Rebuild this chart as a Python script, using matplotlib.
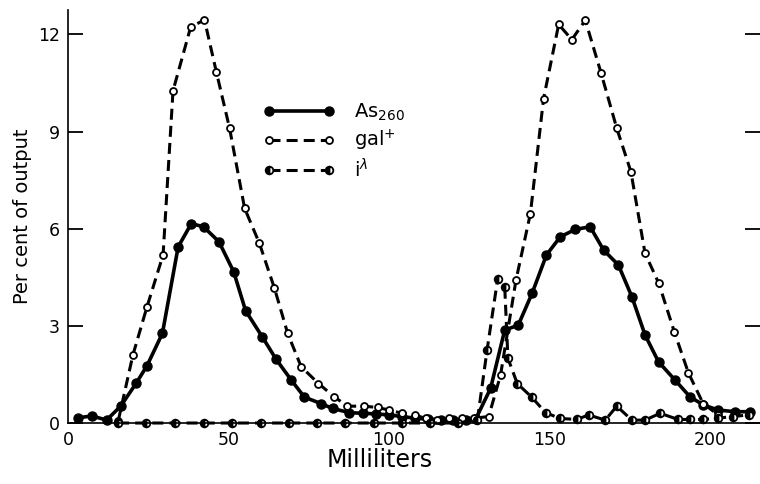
import matplotlib.pyplot as plt

# Absorbance at 260 (filled circles, solid line)
as_x = [3.2, 7.4, 12.0, 16.4, 21.3, 24.6, 29.4, 34.3, 38.4, 42.2, 47.0, 51.6,
        55.3, 60.5, 64.8, 69.5, 73.6, 78.8, 82.4, 87.6, 92.0, 96.0, 100.0,
        104.0, 108.0, 112.0, 116.0, 120.0, 124.0, 126.9, 131.6, 136.0, 140.2,
        144.5, 149.0, 153.3, 158.0, 162.6, 166.8, 171.4, 175.6, 179.7, 183.9,
        189.0, 193.7, 197.8, 202.5, 207.7, 212.3]
as_y = [0.16, 0.22, 0.09, 0.52, 1.24, 1.77, 2.77, 5.44, 6.16, 6.06, 5.6, 4.67,
        3.47, 2.66, 1.97, 1.33, 0.8, 0.6, 0.45, 0.32, 0.3, 0.28, 0.25,
        0.2, 0.15, 0.12, 0.1, 0.1, 0.08, 0.11, 1.07, 2.87, 3.02,
        4.0, 5.19, 5.75, 5.98, 6.06, 5.34, 4.88, 3.9, 2.72, 1.89,
        1.33, 0.81, 0.56, 0.4, 0.35, 0.35]

# gal+ activity (open circles, dashed line)
gal_x = [15.6, 20.2, 24.6, 29.6, 32.7, 38.2, 42.5, 46.2, 50.3, 55.0, 59.6,
         64.3, 68.4, 72.6, 78.0, 82.9, 87.0, 92.2, 96.4, 100.0, 104.0, 108.0,
         111.4, 115.0, 118.6, 122.6, 126.5, 131.0, 134.7, 139.5, 144.0, 148.1,
         152.8, 156.9, 161.1, 166.0, 170.9, 175.3, 179.7, 184.0, 188.8, 193.2,
         197.8, 202.5]
gal_y = [0.05, 2.1, 3.59, 5.19, 10.26, 12.23, 12.45, 10.84, 9.11, 6.63, 5.55,
         4.16, 2.77, 1.74, 1.22, 0.81, 0.52, 0.52, 0.48, 0.4, 0.3, 0.25,
         0.14, 0.1, 0.14, 0.14, 0.15, 0.2, 1.48, 4.41, 6.47, 10.02,
         12.31, 11.84, 12.44, 10.81, 9.1, 7.76, 5.24, 4.31, 2.82, 1.55,
         0.6, 0.25]

# infective lambda (half-filled circles, dashed line)
il_x = [15.6, 24.4, 33.4, 42.2, 51.1, 60.0, 68.8, 77.6, 86.4, 95.2, 104.0,
        112.8, 121.6, 127.5, 130.5, 133.8, 136.0, 137.0, 139.9, 144.5, 148.7,
        153.3, 158.5, 162.1, 167.3, 170.9, 175.6, 179.7, 184.4, 190.0, 193.7,
        197.8, 202.5, 207.0, 212.0]
il_y = [0.0, 0.0, 0.0, 0.0, 0.0, 0.0, 0.0, 0.0, 0.0, 0.0, 0.0,
        0.0, 0.0, 0.1, 2.25, 4.45, 4.2, 2.0, 1.22, 0.79, 0.32,
        0.14, 0.11, 0.25, 0.09, 0.52, 0.09, 0.09, 0.3, 0.11, 0.11,
        0.11, 0.15, 0.2, 0.25]

plt.rcParams['mathtext.fontset'] = 'dejavusans'

fig = plt.figure(figsize=(7.6, 4.84), dpi=100)
ax = fig.add_axes([0.0895, 0.126, 0.9105, 0.853])

ax.plot(as_x, as_y, '-', color='black', lw=2.6, marker='o', ms=6.5,
        mfc='black', mec='black', clip_on=False, label='As$_{260}$')
ax.plot(gal_x, gal_y, '--', color='black', lw=2.2, dashes=(3.6, 2.0),
        marker='o', ms=5, mfc='white', mec='black', mew=1.3,
        clip_on=False, label='gal$^{+}$')
ax.plot(il_x, il_y, '--', color='black', lw=2.2, dashes=(3.6, 2.0),
        marker='o', ms=5.5, fillstyle='left', mfc='black', mfcalt='white',
        mec='black', mew=1.3, clip_on=False, label='i$^{\\lambda}$')

ax.set_xlim(0, 215.5)
ax.set_ylim(0, 12.75)
ax.set_xticks([0, 50, 100, 150, 200])
ax.set_yticks([0, 3, 6, 9, 12])
ax.tick_params(axis='x', length=0, labelsize=12.5, pad=6)
ax.tick_params(axis='y', direction='in', length=11, width=1.3,
               labelsize=12.5, right=True, pad=6)
ax.spines['top'].set_visible(False)
ax.spines['right'].set_visible(False)
ax.spines['left'].set_linewidth(1.2)
ax.spines['bottom'].set_linewidth(1.2)

ax.set_ylabel('Per cent of output', fontsize=14, labelpad=4)
fig.text(0.5, 0.05, 'Milliliters', fontsize=17, ha='center', va='center')

ax.legend(loc='upper left', bbox_to_anchor=(0.333, 0.81),
          bbox_transform=fig.transFigure, frameon=False, fontsize=14,
          numpoints=2, handlelength=3.7, handletextpad=1.0,
          labelspacing=0.25, borderpad=0)

fig.savefig('out.png', dpi=100)
